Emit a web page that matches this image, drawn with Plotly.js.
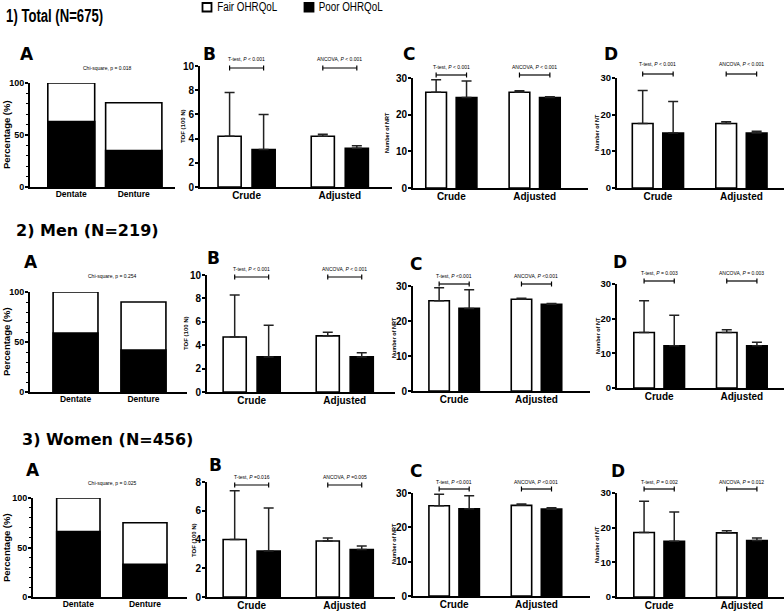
<!DOCTYPE html>
<html><head><meta charset="utf-8">
<script src="https://cdn.plot.ly/plotly-3.0.1.min.js"></script>
<style>html,body{margin:0;padding:0;background:#fff}#chart{width:784px;height:612px}</style>
</head><body><div id="chart"></div>
<script>
// ---------------- DATA ----------------
const seriesNames = ['Fair OHRQoL', 'Poor OHRQoL'];
const aCategories = ['Dentate', 'Denture'];
const bCategories = ['Crude', 'Adjusted'];
const rowTitles = ['1) Total (N=675)', '2) Men (N=219)', '3) Women (N=456)'];
const panelLetters = ['A', 'B', 'C', 'D'];
const yTitles = ['Percentage (%)', 'TOF (100 N)', 'Number of NRT', 'Number of NT'];

// Panel A: stacked percentages (total bar height, poor part)
const totalA_all = [100, 81], poorA_all = [63, 35];
const totalA_men = [100, 90], poorA_men = [59, 42];
const totalA_women = [100, 75], poorA_women = [66, 33];
const chiTexts = ['Chi-square, p = 0.018', 'Chi-square, p = 0.254', 'Chi-square, p = 0.025'];

// Panel B: TOF (100 N) [Crude, Adjusted]
const tofFair_all = [4.2, 4.2], tofFairErr_all = [3.6, 0.15];
const tofPoor_all = [3.1, 3.2], tofPoorErr_all = [2.9, 0.2];
const tofFair_men = [4.7, 4.8], tofFairErr_men = [3.6, 0.3];
const tofPoor_men = [3.0, 3.0], tofPoorErr_men = [2.7, 0.35];
const tofFair_women = [4.0, 3.9], tofFairErr_women = [3.4, 0.2];
const tofPoor_women = [3.2, 3.3], tofPoorErr_women = [3.0, 0.25];

// Panel C: Number of NRT
const nrtFair_all = [26.1, 26.1], nrtFairErr_all = [3.4, 0.4];
const nrtPoor_all = [24.7, 24.7], nrtPoorErr_all = [4.5, 0.2];
const nrtFair_men = [25.8, 26.2], nrtFairErr_men = [3.7, 0.3];
const nrtPoor_men = [23.6, 24.8], nrtPoorErr_men = [5.3, 0.2];
const nrtFair_women = [26.3, 26.4], nrtFairErr_women = [3.3, 0.4];
const nrtPoor_women = [25.4, 25.3], nrtPoorErr_women = [3.8, 0.4];

// Panel D: Number of NT
const ntFair_all = [17.6, 17.6], ntFairErr_all = [9.0, 0.5];
const ntPoor_all = [15.0, 15.0], ntPoorErr_all = [8.6, 0.5];
const ntFair_men = [16.0, 16.0], ntFairErr_men = [9.2, 0.8];
const ntPoor_men = [12.2, 12.2], ntPoorErr_men = [8.8, 1.0];
const ntFair_women = [18.6, 18.5], ntFairErr_women = [9.0, 0.6];
const ntPoor_women = [16.1, 16.3], ntPoorErr_women = [8.4, 0.7];

// Test labels [crude, adjusted] per row for B, C, D
const testB = [['T-test, <i>P</i> < 0.001', 'ANCOVA, <i>P</i> < 0.001'], ['T-test, <i>P</i> < 0.001', 'ANCOVA, <i>P</i> < 0.001'], ['T-test, <i>P</i> =0.016', 'ANCOVA, <i>P</i> =0.005']];
const testC = [['T-test, <i>P</i> < 0.001', 'ANCOVA, <i>P</i> < 0.001'], ['T-test, <i>P</i> <0.001', 'ANCOVA, <i>P</i> <0.001'], ['T-test, <i>P</i> <0.001', 'ANCOVA, <i>P</i> <0.001']];
const testD = [['T-test, <i>P</i> < 0.001', 'ANCOVA, <i>P</i> < 0.001'], ['T-test, <i>P</i> = 0.003', 'ANCOVA, <i>P</i> = 0.003'], ['T-test, <i>P</i> = 0.002', 'ANCOVA, <i>P</i> = 0.012']];

// ---------------- LAYOUT GEOMETRY (pixels) ----------------
const W = 784, H = 612;
const px = x => x / W, py = y => 1 - y / H;
// [left, right, top, bottom, xmin, xmax, ymax, dtick]
const geo = [
  [[30,175,83,187,-0.66,1.66,100,50],[200,392,66,187,-0.5,1.56,10,2],[413,588,78,188,-0.46,1.64,30,10],[617,784,78,188,-0.49,1.51,30,10]],
  [[30,187,292,392,-0.67,1.64,100,50],[207,395,275,392,-0.48,1.54,10,2],[413,590,286,391,-0.5,1.65,30,10],[617,784,284,388,-0.51,1.51,30,10]],
  [[33,187,498,597,-0.68,1.63,100,50],[207,395,482,597,-0.48,1.54,8,2],[413,590,493,596,-0.5,1.65,30,10],[617,784,493,597,-0.51,1.51,30,10]]
];
const aWidths = [[0.75,0.9],[0.66,0.66],[0.65,0.66]];
const letterPos = [[[27,54],[209,54],[409,54],[611,54]],[[31,262],[213,258],[416,264],[620,262]],[[33,470],[216,465],[416,471],[618,471]]];
const yTitlePos = [[[6,135],[183,126],[387,133],[597,133]],[[6,342],[186,333],[394,338],[598,336]],[[6,548],[194,540],[394,544],[597,545]]];
const chiPos = [[107,68],[112,276],[112,483]];
const bracketY = [[[68,59],[75,67],[74,64]],[[277,269],[284,276],[281,273]],[[485,477],[489,482],[489,482]]];

const fArial = 'Liberation Sans, Arial, sans-serif';
const fHeavy = 'DejaVu Sans, sans-serif';

const rowsA = [[totalA_all, poorA_all],[totalA_men, poorA_men],[totalA_women, poorA_women]];
const rowsB = [[tofFair_all,tofFairErr_all,tofPoor_all,tofPoorErr_all],[tofFair_men,tofFairErr_men,tofPoor_men,tofPoorErr_men],[tofFair_women,tofFairErr_women,tofPoor_women,tofPoorErr_women]];
const rowsC = [[nrtFair_all,nrtFairErr_all,nrtPoor_all,nrtPoorErr_all],[nrtFair_men,nrtFairErr_men,nrtPoor_men,nrtPoorErr_men],[nrtFair_women,nrtFairErr_women,nrtPoor_women,nrtPoorErr_women]];
const rowsD = [[ntFair_all,ntFairErr_all,ntPoor_all,ntPoorErr_all],[ntFair_men,ntFairErr_men,ntPoor_men,ntPoorErr_men],[ntFair_women,ntFairErr_women,ntPoor_women,ntPoorErr_women]];
const tests = [testB, testC, testD];

const BARGAP = 0.27, BARGROUPGAP = 0.32;
const slotOff = (1 - BARGAP) / 4;

const data = [];
const layout = {
  width: W, height: H, margin: {l:0, r:0, t:0, b:0},
  paper_bgcolor: '#fff', plot_bgcolor: 'rgba(0,0,0,0)',
  showlegend: false, barmode: 'group', bargap: BARGAP, bargroupgap: BARGROUPGAP,
  font: {family: fArial, color: '#000'},
  shapes: [], annotations: []
};

function ann(o){ layout.annotations.push(Object.assign({showarrow:false, xref:'paper', yref:'paper'}, o)); }
function errObj(arr){ return {type:'data', symmetric:false, array:arr, arrayminus:arr.map(()=>0), color:'#222', thickness:1.5, width:5}; }

// condensed texts (row-1 title and legend) : [text, centerX, centerY, targetWidth, size, weight]
const condensed = [
  [rowTitles[0], 55, 16, 97, 18, 'bold'],
  [seriesNames[0], 247, 7.5, 60, 12.5, 'normal'],
  [seriesNames[1], 350, 7.5, 64, 12.5, 'normal']
];
condensed.forEach(c => ann({x:px(c[1]), y:py(c[2]), xanchor:'center', yanchor:'middle', text:c[0],
  font:{family:fArial, size:c[4], weight:c[5], color:'#000'}}));
const rowTitlePos = [null, [14,230], [20,439]];
for (let r = 1; r < 3; r++) {
  ann({x:px(rowTitlePos[r][0]), y:py(rowTitlePos[r][1]), xanchor:'left', yanchor:'middle',
       text:rowTitles[r], font:{family:fHeavy, size:16, weight:'bold', color:'#000'}});
}

for (let r = 0; r < 3; r++) {
  for (let p = 0; p < 4; p++) {
    const k = r*4 + p + 1;
    const xid = 'x' + (k===1?'':k), yid = 'y' + (k===1?'':k);
    const g = geo[r][p];
    layout['xaxis' + (k===1?'':k)] = {
      domain:[px(g[0]), px(g[1])], range:[g[4], g[5]], anchor:yid, type:'category',
      showline:true, linewidth:2, linecolor:'#000', ticks:'', showgrid:false, zeroline:false, fixedrange:true,
      ticklabelstandoff:-2,
      tickfont:{family:fArial, size: p===0 ? 8.5 : 10, weight:'bold', color:'#000'}
    };
    const ya = {
      domain:[py(g[3]), py(g[2])], range:[0, g[6]], anchor:xid,
      showline:true, linewidth:2, linecolor:'#000', ticks:'outside', ticklen:3, tickwidth:2, tickcolor:'#000',
      dtick:g[7], tick0:0, showgrid:false, zeroline:false, fixedrange:true, ticklabelstandoff:-1,
      tickfont:{family:fArial, size: p===0 ? 9 : (p===3 ? 9.5 : 10), weight:'bold', color:'#000'}
    };
    if (p === 0) ya.minor = {dtick:10, ticklen:2, tickwidth:1, tickcolor:'#000', ticks:'outside'};
    layout['yaxis' + (k===1?'':k)] = ya;

    ann({x:px(letterPos[r][p][0]), y:py(letterPos[r][p][1]), xanchor:'center', yanchor:'middle',
         text:panelLetters[p], font:{family:fHeavy, size:17, weight:'bold', color:'#000'}});
    ann({x:px(yTitlePos[r][p][0]), y:py(yTitlePos[r][p][1]), xanchor:'center', yanchor:'middle', textangle:-90,
         text:yTitles[p], font:{family:fArial, size: p===0 ? 9.5 : (p===1 ? 6 : 5.5), weight:'bold', color:'#000'}});

    if (p === 0) {
      const [tot, poor] = rowsA[r];
      const w = aWidths[r];
      data.push({type:'bar', name:seriesNames[0], x:aCategories, y:tot, xaxis:xid, yaxis:yid,
                 width:w, offset:w.map(v=>-v/2), marker:{color:'#fff', line:{color:'#000', width:1.6}}});
      data.push({type:'bar', name:seriesNames[1], x:aCategories, y:poor, xaxis:xid, yaxis:yid,
                 width:w, offset:w.map(v=>-v/2), marker:{color:'#000', line:{color:'#000', width:1.6}}});
      ann({x:px(chiPos[r][0]), y:py(chiPos[r][1]), xanchor:'center', yanchor:'middle',
           text:chiTexts[r], font:{family:fArial, size:5, color:'#000'}});
    } else {
      const set = [rowsB, rowsC, rowsD][p-1][r];
      data.push({type:'bar', name:seriesNames[0], x:bCategories, y:set[0], error_y:errObj(set[1]), xaxis:xid, yaxis:yid,
                 marker:{color:'#fff', line:{color:'#000', width:1.6}}});
      data.push({type:'bar', name:seriesNames[1], x:bCategories, y:set[2], error_y:errObj(set[3]), xaxis:xid, yaxis:yid,
                 marker:{color:'#000', line:{color:'#000', width:1.6}}});
      const [by, ty] = bracketY[r][p-1];
      for (let i = 0; i < 2; i++) {
        const x0 = i - slotOff, x1 = i + slotOff;
        const ln = {color:'#000', width:1.2};
        layout.shapes.push({type:'line', xref:xid, yref:'paper', x0:x0, x1:x1, y0:py(by), y1:py(by), line:ln});
        layout.shapes.push({type:'line', xref:xid, yref:'paper', x0:x0, x1:x0, y0:py(by-2.5), y1:py(by+2.5), line:ln});
        layout.shapes.push({type:'line', xref:xid, yref:'paper', x0:x1, x1:x1, y0:py(by-2.5), y1:py(by+2.5), line:ln});
        ann({xref:xid, x:i, y:py(ty), xanchor:'center', yanchor:'middle',
             text:tests[p-1][r][i], font:{family:fArial, size:5, color:'#000'}});
      }
    }
  }
}

// manual legend squares at top
layout.shapes.push({type:'rect', xref:'paper', yref:'paper', x0:px(202.5), x1:px(211.5), y0:py(11.5), y1:py(3), fillcolor:'#fff', line:{color:'#000', width:1.8}});
layout.shapes.push({type:'rect', xref:'paper', yref:'paper', x0:px(304.5), x1:px(313.5), y0:py(11.5), y1:py(3), fillcolor:'#000', line:{color:'#000', width:1.8}});

Plotly.newPlot('chart', data, layout, {staticPlot:true, displayModeBar:false}).then(gd => {
  // condense the narrow-font texts to their reference widths
  gd.querySelectorAll('text.annotation-text').forEach(t => {
    const c = condensed.find(c => c[0] === t.textContent);
    if (c) { t.setAttribute('textLength', c[3]); t.setAttribute('lengthAdjust', 'spacingAndGlyphs'); }
  });
});
</script>
</body></html>
